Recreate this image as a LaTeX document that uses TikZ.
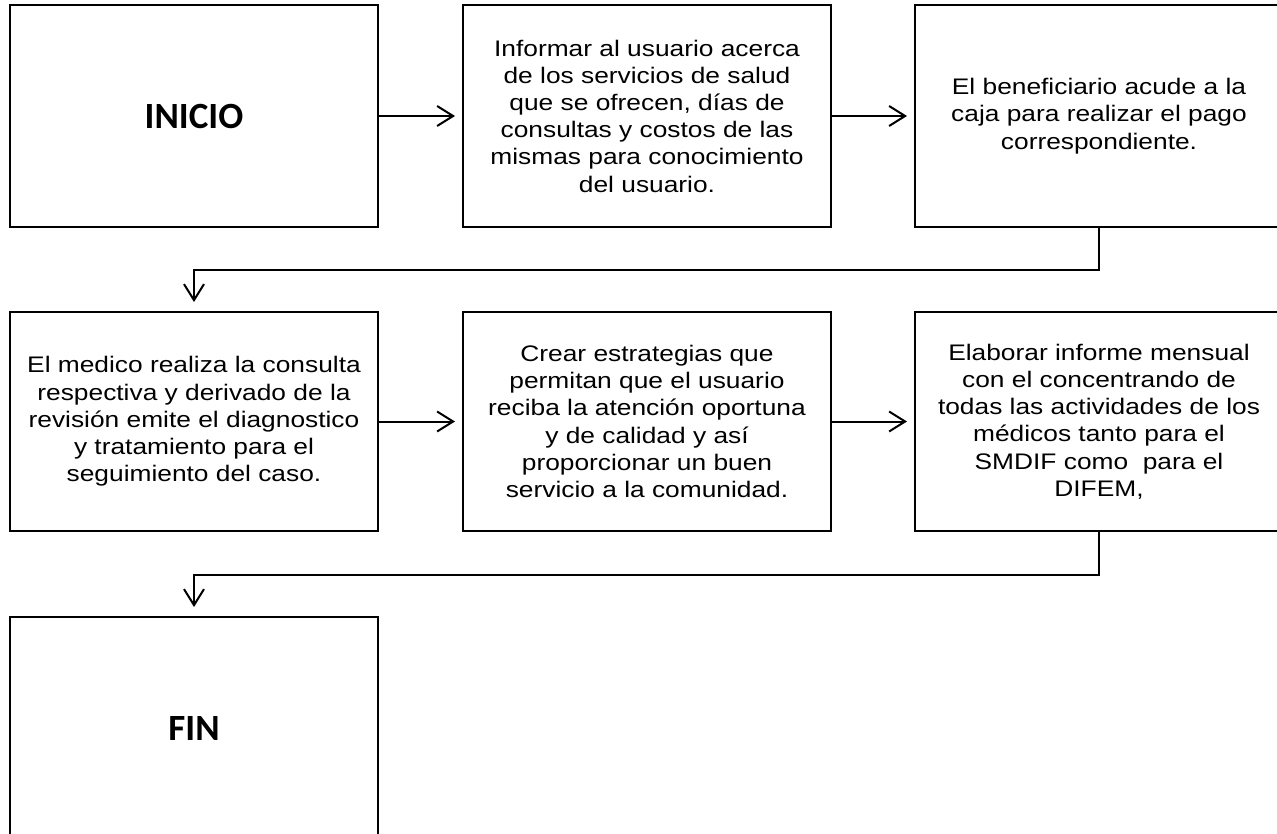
\documentclass[tikz,border=0pt]{standalone}
\usepackage{fontspec}
\setmainfont{Liberation Sans}
\newfontfamily\bodyfont[FakeStretch=1.17]{Liberation Sans}
\newfontfamily\titlefont{Carlito}
\usetikzlibrary{arrows.meta}
\tikzset{
  stepbox/.style={draw=black, line width=2pt, fill=white, inner sep=0pt,
    minimum width=368pt, align=center,
    font=\bodyfont\fontsize{22.5pt}{27.2pt}\selectfont},
  toprow/.style={minimum height=222pt},
  midrow/.style={minimum height=219pt},
  termbox/.style={stepbox, font=\titlefont\bfseries\fontsize{37pt}{40pt}\selectfont},
  arr/.style={draw=black, line width=2pt, -{Straight Barb[length=16pt, width=20pt, line width=2pt]}},
}
\begin{document}
\begin{tikzpicture}[x=1pt, y=-1pt]
\clip (0,0) rectangle (1277,833);
\fill[white] (0,0) rectangle (1277,833);
% row 1
\node[termbox, toprow] (inicio) at (194,116) {INICIO};
\node[stepbox, toprow] (info) at (647,116) {Informar al usuario acerca\\de los servicios de salud\\que se ofrecen, días de\\consultas y costos de las\\mismas para conocimiento\\del usuario.};
\node[stepbox, toprow] (caja) at (1099,116) {El beneficiario acude a la\\caja para realizar el pago\\correspondiente.};
% row 2
\node[stepbox, midrow] (medico) at (194,421.5) {El medico realiza la consulta\\respectiva y derivado de la\\revisión emite el diagnostico\\y tratamiento para el\\seguimiento del caso.};
\node[stepbox, midrow] (estrat) at (647,421.5) {Crear estrategias que\\permitan que el usuario\\reciba la atención oportuna\\y de calidad y así\\proporcionar un buen\\servicio a la comunidad.};
\node[stepbox, midrow] (informe) at (1099,421.5) {Elaborar informe mensual\\con el concentrando de\\todas las actividades de los\\médicos tanto para el\\SMDIF como\ \ para el\\DIFEM,};
% row 3
\node[termbox, minimum height=222pt] (fin) at (194,728) {FIN};
% connectors
\draw[arr, shorten >=7pt] (inicio.east) -- (info.west);
\draw[arr, shorten >=7pt] (info.east) -- (caja.west);
\draw[arr, shorten >=7pt] (medico.east) -- (estrat.west);
\draw[arr, shorten >=7pt] (estrat.east) -- (informe.west);
\draw[arr, shorten >=9pt] (caja.south) -- ++(0,42) -| (medico.north);
\draw[arr, shorten >=9pt] (informe.south) -- ++(0,43) -| (fin.north);
\end{tikzpicture}
\end{document}
